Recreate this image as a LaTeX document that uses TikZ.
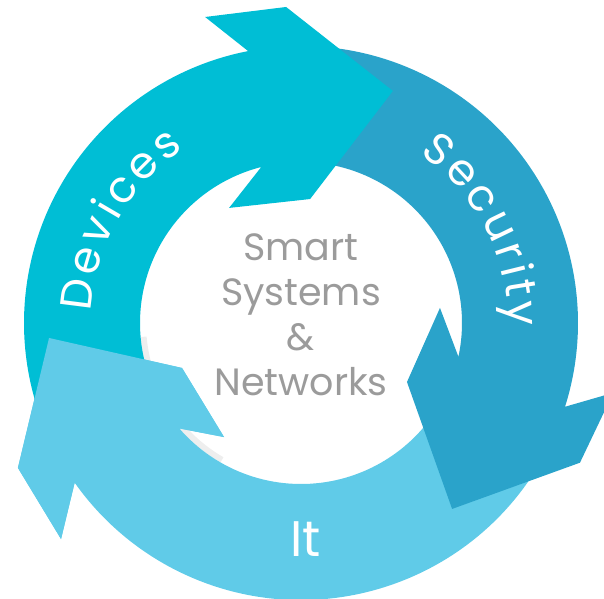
\documentclass[tikz,border=0pt]{standalone}
\usepackage{fontspec}
\setmainfont{Poppins}
\usetikzlibrary{decorations.text}

\definecolor{devcyan}{RGB}{0,190,213}
\definecolor{secblue}{RGB}{42,163,202}
\definecolor{itblue}{RGB}{96,203,232}
\definecolor{hubgray}{RGB}{155,155,155}
\definecolor{rimgray}{RGB}{238,238,238}

\tikzset{
	ringtext/.style={decorate, decoration={text along path, text color=white,
		text align=fit to path, text={|\fontsize{44}{44}\selectfont|#1}}},
	bandtext/.style={text=white, font=\fontsize{50}{50}\selectfont},
	hubtext/.style={text=hubgray, align=center, font=\fontsize{38}{45}\selectfont},
}

\begin{document}
\begin{tikzpicture}[x=1pt, y=1pt]
	%\draw[help lines] (-301,-275) grid[step=50] (303,323);
	\useasboundingbox (-301,-275) rectangle (303,323);
	% thin rim seen in the gaps near the It head
	\fill[rimgray] (185:161) arc[start angle=185, end angle=240, radius=161] -- (240:155) arc[start angle=240, end angle=185, radius=155] -- cycle;
	% It
	\fill[itblue] (-25:277) arc[start angle=-25, end angle=-144.8, radius=277] -- (222:322.9) -- (207.1:318) -- (183.4:252.4) -- (200.7:127.2) -- (236:137.6) -- (220.9:161) arc[start angle=220.9, end angle=335, radius=161] -- cycle;
	% Security
	\fill[secblue] (93:277) arc[start angle=93, end angle=-17.6, radius=277] -- (-12.6:320) -- (-26.6:312) -- (-50.9:239.6) -- (-29.1:121.3) -- (6.2:139.8) -- (-12.1:161) arc[start angle=-12.1, end angle=93, radius=161] -- cycle;
	% Devices
	\fill[devcyan] (206:277) arc[start angle=206, end angle=101, radius=277] -- (107.4:320.7) -- (92.7:316.4) -- (68.4:249.6) -- (85.8:124.3) -- (122:135.7) -- (104.3:161) arc[start angle=104.3, end angle=206, radius=161] -- cycle;
	% It head again, over the Devices tail
	\fill[itblue] (215.2:277) -- (222:322.9) -- (207.1:318) -- (183.4:252.4) -- (200.7:127.2) -- (236:137.6) -- (220.9:161) -- cycle;
	% labels
	\path[ringtext=Devices] (177:210) arc[start angle=177, end angle=124, radius=210];
	\path[ringtext=Security] (55:207) arc[start angle=55, end angle=-1, radius=207];
	\node[bandtext] (it) at (4.5,-216.5) {It};
	\node[hubtext] (hub) at (0,8) {Smart\\Systems\\\&\\Networks};
\end{tikzpicture}
\end{document}
